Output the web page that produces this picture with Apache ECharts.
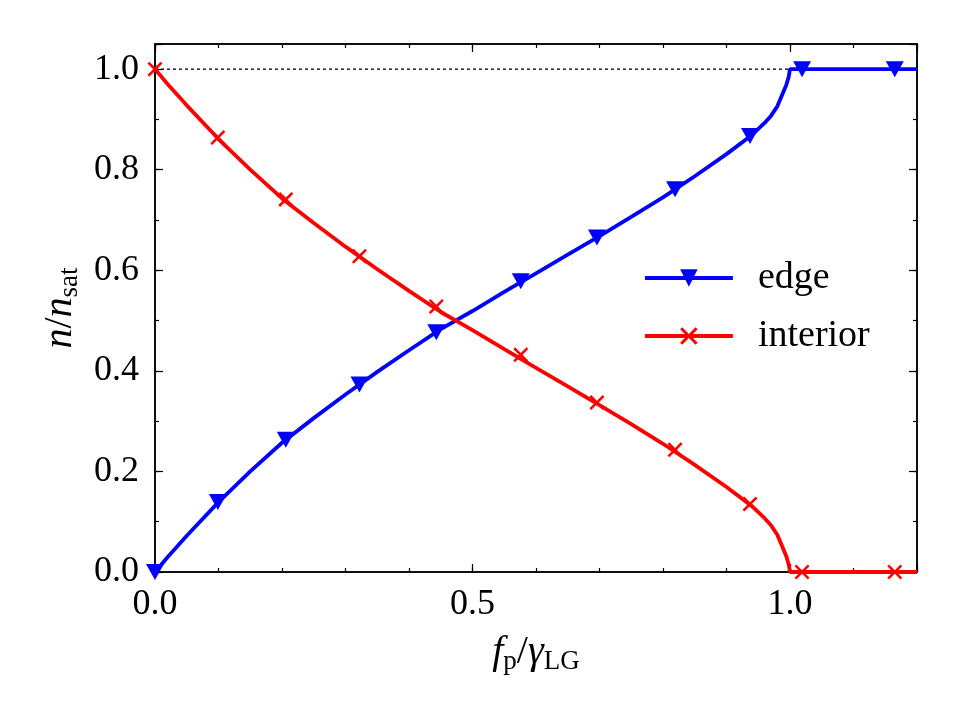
<!DOCTYPE html>
<html>
<head>
<meta charset="utf-8">
<script src="https://cdn.jsdelivr.net/npm/echarts@6/dist/echarts.min.js"></script>
<style>
  html, body { margin: 0; padding: 0; background: #fff; }
  #chart { width: 961px; height: 721px; }
</style>
</head>
<body>
<div id="chart"></div>
<script>
// curve samples
const curveX = [0, 0.02, 0.05, 0.1, 0.15, 0.2, 0.25, 0.3, 0.35, 0.4, 0.45, 0.5, 0.55, 0.6, 0.65, 0.7, 0.75, 0.8, 0.85, 0.9, 0.94, 0.95, 0.96, 0.97, 0.98, 0.988, 0.994, 0.998, 1.0, 1.2];
const edgeY = [0, 0.03, 0.072, 0.139, 0.2, 0.257, 0.306, 0.353, 0.398, 0.441, 0.483, 0.519, 0.557, 0.594, 0.631, 0.668, 0.706, 0.745, 0.787, 0.831, 0.869, 0.881, 0.893, 0.907, 0.926, 0.95, 0.968, 0.985, 1.0, 1.0];
const interiorY = [1, 0.97, 0.928, 0.861, 0.8, 0.743, 0.694, 0.647, 0.602, 0.559, 0.517, 0.481, 0.443, 0.406, 0.369, 0.332, 0.294, 0.255, 0.213, 0.169, 0.131, 0.119, 0.107, 0.093, 0.074, 0.05, 0.032, 0.015, 0, 0];

// marker positions
const markX = [0, 0.099, 0.206, 0.322, 0.443, 0.576, 0.696, 0.819, 0.937, 1.019, 1.165];
const markEdge = [0, 0.139, 0.263, 0.373, 0.477, 0.578, 0.665, 0.761, 0.867, 1, 1];
const markInterior = [1, 0.864, 0.741, 0.628, 0.528, 0.432, 0.337, 0.243, 0.135, 0, 0];

const xTicks = ['0.0', '0.5', '1.0'];
const yTicks = ['0.0', '0.2', '0.4', '0.6', '0.8', '1.0'];
const satLine = [[0, 1], [1.0, 1]];

const FONT = 'Liberation Serif';
const crossPath = 'path://M0,1.2L1.2,0L5,3.8L8.8,0L10,1.2L6.2,5L10,8.8L8.8,10L5,6.2L1.2,10L0,8.8L3.8,5Z';

const pair = (xs, ys) => xs.map((x, i) => [x, ys[i]]);

function makeX(pos, interval, tickLen, withLabels) {
  return {
    type: 'value', position: pos, min: 0, max: 1.2, interval: interval,
    axisLine: { show: true, onZero: false, lineStyle: { color: '#000', width: 1.5 } },
    axisTick: { show: true, inside: true, length: tickLen, lineStyle: { color: '#000', width: 1.2 } },
    axisLabel: withLabels ? {
      show: true, margin: 15, fontFamily: FONT, fontSize: 36, color: '#000',
      formatter: v => { const s = v.toFixed(1); return xTicks.includes(s) ? s : ''; }
    } : { show: false },
    splitLine: { show: false }
  };
}
function makeY(pos, interval, tickLen, withLabels) {
  return {
    type: 'value', position: pos, min: 0, max: 1.05, interval: interval,
    axisLine: { show: true, onZero: false, lineStyle: { color: '#000', width: 1.5 } },
    axisTick: { show: true, inside: true, length: tickLen, lineStyle: { color: '#000', width: 1.2 } },
    axisLabel: withLabels ? {
      show: true, margin: 16, fontFamily: FONT, fontSize: 36, color: '#000',
      formatter: v => { const s = v.toFixed(1); return yTicks.includes(s) ? s : ''; }
    } : { show: false },
    splitLine: { show: false }
  };
}

const nameRich = {
  i: { fontFamily: FONT, fontSize: 40, fontStyle: 'italic', color: '#000' },
  r: { fontFamily: FONT, fontSize: 40, color: '#000' },
  s: { fontFamily: FONT, fontSize: 27, color: '#000', padding: [18, 0, 0, 0] }
};

const xMain = makeX('bottom', 0.5, 8, true);
xMain.name = '{i|f}{s|p}{r|/}{i|γ}{s|LG}';
xMain.nameLocation = 'middle';
xMain.nameGap = 58;
xMain.nameTextStyle = { fontFamily: FONT, color: '#000', rich: nameRich };

const yMain = makeY('left', 0.2, 8, true);
yMain.name = '{i|n}{r|/}{i|n}{s|sat}';
yMain.nameLocation = 'middle';
yMain.nameRotate = 90;
yMain.nameGap = 72;
yMain.nameTextStyle = { fontFamily: FONT, color: '#000', rich: nameRich };

const chart = echarts.init(document.getElementById('chart'), null, { renderer: 'canvas' });

chart.setOption({
  backgroundColor: '#fff',
  animation: false,
  grid: { left: 155, right: 44, top: 44, bottom: 149, containLabel: false },
  xAxis: [
    xMain,
    makeX('bottom', 0.1, 4, false),
    makeX('top', 0.5, 8, false),
    makeX('top', 0.1, 4, false)
  ],
  yAxis: [
    yMain,
    makeY('left', 0.1, 4, false),
    makeY('right', 0.2, 8, false),
    makeY('right', 0.1, 4, false)
  ],
  legend: {
    data: ['edge', 'interior'],
    orient: 'vertical',
    left: 638, top: 253,
    itemWidth: 88, itemHeight: 22, itemGap: 18,
    lineStyle: { width: 3.8 },
    textStyle: { fontFamily: FONT, fontSize: 38, color: '#000', lineHeight: 40, padding: [0, 0, 0, 20] }
  },
  series: [
    {
      name: 'sat', type: 'line', data: satLine, symbol: 'none', silent: true,
      lineStyle: { color: '#000', width: 1.3, type: [3, 3] }, z: 1
    },
    {
      name: 'edge', type: 'line', data: pair(curveX, edgeY),
      symbol: 'triangle', symbolRotate: 180, symbolSize: 18, showSymbol: false,
      smooth: false,
      itemStyle: { color: '#0000ff', opacity: 1 },
      lineStyle: { color: '#0000ff', width: 3.8 }, z: 3
    },
    {
      name: 'interior', type: 'line', data: pair(curveX, interiorY),
      symbol: crossPath, symbolSize: 15, showSymbol: false,
      smooth: false,
      itemStyle: { color: '#ff0000', opacity: 1 },
      lineStyle: { color: '#ff0000', width: 3.8 }, z: 3
    },
    {
      name: 'edgeMarks', type: 'scatter', data: pair(markX, markEdge),
      symbol: 'triangle', symbolRotate: 180, symbolSize: [18, 16], clip: true,
      itemStyle: { color: '#0000ff', opacity: 1 }, z: 4
    },
    {
      name: 'interiorMarks', type: 'scatter', data: pair(markX, markInterior),
      symbol: crossPath, symbolSize: 15, clip: true,
      itemStyle: { color: '#ff0000', opacity: 1 }, z: 4
    }
  ]
});
</script>
</body>
</html>
